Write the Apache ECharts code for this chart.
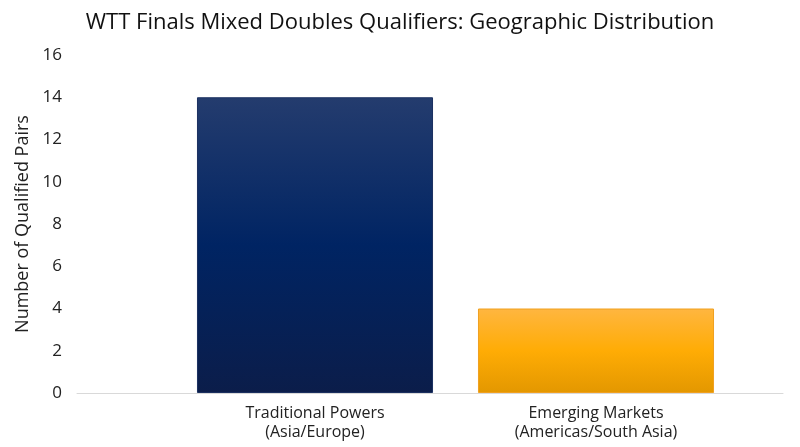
<!DOCTYPE html>
<html>
<head>
<meta charset="utf-8">
<script src="https://cdn.jsdelivr.net/npm/echarts@6/dist/echarts.min.js"></script>
<style>
  html, body { margin: 0; padding: 0; background: #fff; }
  #chart { width: 800px; height: 447px; }
</style>
</head>
<body>
<div id="chart"></div>
<script>
// data
var categories = ["Traditional Powers\n(Asia/Europe)", "Emerging Markets\n(Americas/South Asia)"];
var qualifiedPairs = [14, 4];
var yTicks = { min: 0, max: 16, step: 2 };

var fontName = "Open Sans";

function grad(top, mid, bottom) {
	return new echarts.graphic.LinearGradient(0, 0, 0, 1, [
		{ offset: 0, color: top },
		{ offset: 0.5, color: mid },
		{ offset: 1, color: bottom }
	]);
}

var barStyles = [
	{ color: grad("#243c6e", "#002463", "#0b1d4a"), borderColor: "#1b3060" },
	{ color: grad("#ffb640", "#ffac05", "#e39700"), borderColor: "#f0a020" }
];

var chart = echarts.init(document.getElementById("chart"));

chart.setOption({
	backgroundColor: "#ffffff",
	animation: false,
	title: {
		text: "WTT Finals Mixed Doubles Qualifiers: Geographic Distribution",
		left: "center",
		top: 7,
		textStyle: { fontFamily: fontName, fontSize: 22, fontWeight: "normal", color: "#111" }
	},
	grid: [
		// bars
		{ left: 174.5, right: 63.5, top: 55, bottom: 54 },
		// full width frame: y labels + baseline
		{ left: 77, right: 17, top: 55, bottom: 54 }
	],
	xAxis: [
		{
			type: "category",
			gridIndex: 0,
			data: categories,
			axisLine: { show: false },
			axisTick: { show: false },
			axisLabel: {
				margin: 11,
				fontFamily: fontName,
				fontSize: 16,
				lineHeight: 19,
				color: "#222"
			}
		},
		{
			type: "value",
			gridIndex: 1,
			min: 0,
			max: 1,
			axisLine: { show: true, lineStyle: { color: "#d9d9d9", width: 1 } },
			axisTick: { show: false },
			axisLabel: { show: false },
			splitLine: { show: false }
		}
	],
	yAxis: [
		{
			type: "value",
			gridIndex: 0,
			min: yTicks.min,
			max: yTicks.max,
			interval: yTicks.step,
			show: false
		},
		{
			type: "value",
			gridIndex: 1,
			min: yTicks.min,
			max: yTicks.max,
			interval: yTicks.step,
			name: "Number of Qualified Pairs",
			nameLocation: "middle",
			nameGap: 39,
			nameTextStyle: { fontFamily: fontName, fontSize: 18, color: "#222" },
			axisLine: { show: false },
			axisTick: { show: false },
			splitLine: { show: false },
			axisLabel: { margin: 15, fontFamily: fontName, fontSize: 17, color: "#222" }
		}
	],
	series: [
		{
			type: "bar",
			xAxisIndex: 0,
			yAxisIndex: 0,
			barWidth: "84%",
			data: qualifiedPairs.map(function (v, i) {
				return {
					value: v,
					itemStyle: {
						color: barStyles[i].color,
						borderColor: barStyles[i].borderColor,
						borderWidth: 1
					}
				};
			})
		}
	]
});
</script>
</body>
</html>
